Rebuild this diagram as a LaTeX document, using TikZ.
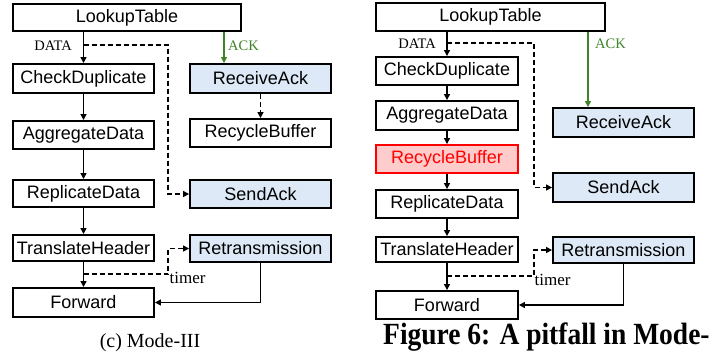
\documentclass[tikz,border=0pt]{standalone}
\usepackage{fontspec}
\setmainfont{Liberation Serif}
\newfontfamily\boxfont{Liberation Sans}
\usetikzlibrary{arrows.meta}
\definecolor{ackgreen}{RGB}{62,132,40}
\definecolor{ackblue}{RGB}{221,233,246}
\definecolor{pitred}{RGB}{255,0,0}
\definecolor{pitfill}{RGB}{255,204,204}
\tikzset{
  box/.style={draw, line width=1.9pt, inner sep=0pt, font=\boxfont\fontsize{18}{20}\selectfont},
  bluebox/.style={box, fill=ackblue},
  redbox/.style={box, draw=pitred, fill=pitfill, text=pitred},
  arr/.style={line width=1.4pt, -{Triangle[length=6pt,width=6pt]}},
  dsh/.style={arr, dash pattern=on 5pt off 3pt},
  ack/.style={arr, draw=ackgreen},
  lbl/.style={inner sep=0pt, font=\fontsize{14.5}{16}\selectfont},
}
% box from corner coordinates: name, x1, y1, x2, y2, style, text
\newcommand\bx[7]{%
  \node[#6, minimum width={(#4-#2)*1pt}, minimum height={(#5-#3)*1pt}]
    (#1) at ({(#2+#4)/2},{(#3+#5)/2}) {#7};}
\begin{document}
\begin{tikzpicture}[x=1pt,y=-1pt]
\useasboundingbox (0,0) rectangle (713,360);

% ---------- (c) Mode-III ----------
\bx{LTa}{13}{4}{241}{31}{box}{LookupTable}
\bx{CDa}{13}{64}{154}{93}{box}{CheckDuplicate}
\bx{ADa}{13}{121}{154}{149}{box}{AggregateData}
\bx{RDa}{13}{180}{154}{207}{box}{ReplicateData}
\bx{THa}{13}{235}{154}{261}{box}{TranslateHeader}
\bx{FWa}{13}{288}{154}{317}{box}{Forward}
\bx{RAa}{190}{64}{331}{93}{bluebox}{ReceiveAck}
\bx{RBa}{190}{119}{331}{147}{box}{RecycleBuffer}
\bx{SAa}{190}{180}{331}{208}{bluebox}{SendAck}
\bx{RTa}{190}{235}{331}{262}{bluebox}{Retransmission}

\coordinate (dA) at (83.5,45);
\coordinate (tA) at (83.5,274);
\coordinate (kA) at (224,0);
\coordinate (dcA) at (168,0);

\draw[arr] (LTa.south -| CDa.north) -- (CDa.north);
\draw[arr] (CDa) -- (ADa);
\draw[arr] (ADa) -- (RDa);
\draw[arr] (RDa) -- (THa);
\draw[arr] (THa) -- (FWa);
\draw[dsh] (dA) -| (dcA |- SAa.west) -- (SAa.west);
\draw[ack] (LTa.south -| kA) -- (kA |- RAa.north);
\draw[dsh] (RAa) -- (RBa);
\draw[dsh] (tA) -| (dcA |- RTa.west) -- (RTa.west);
\draw[arr] (RTa.south) |- (FWa.east);

\node[lbl, anchor=base east] (dlA) at (72,50) {DATA};
\node[lbl, anchor=base west, text=ackgreen] (klA) at (228,50) {ACK};
\node[lbl, anchor=base west, font=\fontsize{17}{18}\selectfont] (tlA) at (169.5,283) {timer};
\node[inner sep=0pt, anchor=base, font=\fontsize{20}{22}\selectfont] (capA) at (150,347) {(c) Mode-III};

% ---------- pitfall ----------
\bx{LTb}{376}{3}{605}{31}{box}{LookupTable}
\bx{CDb}{376}{57}{518}{85}{box}{CheckDuplicate}
\bx{ADb}{376}{101}{518}{130}{box}{AggregateData}
\bx{RFb}{376}{145}{518}{173}{redbox}{RecycleBuffer}
\bx{RDb}{376}{190}{518}{218}{box}{ReplicateData}
\bx{THb}{376}{237}{518}{262}{box}{TranslateHeader}
\bx{FWb}{376}{291}{518}{319}{box}{Forward}
\bx{RAb}{553}{108}{694}{137}{bluebox}{ReceiveAck}
\bx{SAb}{553}{173}{694}{202}{bluebox}{SendAck}
\bx{RTb}{553}{237}{694}{263}{bluebox}{Retransmission}

\coordinate (dB) at (447,43);
\coordinate (tB) at (447,276);
\coordinate (kB) at (588,0);
\coordinate (dcB) at (534,0);

\draw[arr] (LTb.south -| CDb.north) -- (CDb.north);
\draw[arr] (CDb) -- (ADb);
\draw[arr] (ADb) -- (RFb);
\draw[arr] (RFb) -- (RDb);
\draw[arr] (RDb) -- (THb);
\draw[arr] (THb) -- (FWb);
\draw[dsh] (dB) -| (dcB |- SAb.west) -- (SAb.west);
\draw[ack] (LTb.south -| kB) -- (kB |- RAb.north);
\draw[dsh] (tB) -| (dcB |- RTb.west) -- (RTb.west);
\draw[arr] (RTb.south) |- (FWb.east);

\node[lbl, anchor=base east] (dlB) at (436,48) {DATA};
\node[lbl, anchor=base west, text=ackgreen] (klB) at (595,48) {ACK};
\node[lbl, anchor=base west, font=\fontsize{17}{18}\selectfont] (tlB) at (534.5,285) {timer};
\node[inner sep=0pt, anchor=base west, font=\bfseries\fontsize{27.5}{30}\selectfont] (capB) at (383,344) {\scalebox{1}[1.12]{Figure 6: A pitfall in Mode-}};
\end{tikzpicture}
\end{document}
